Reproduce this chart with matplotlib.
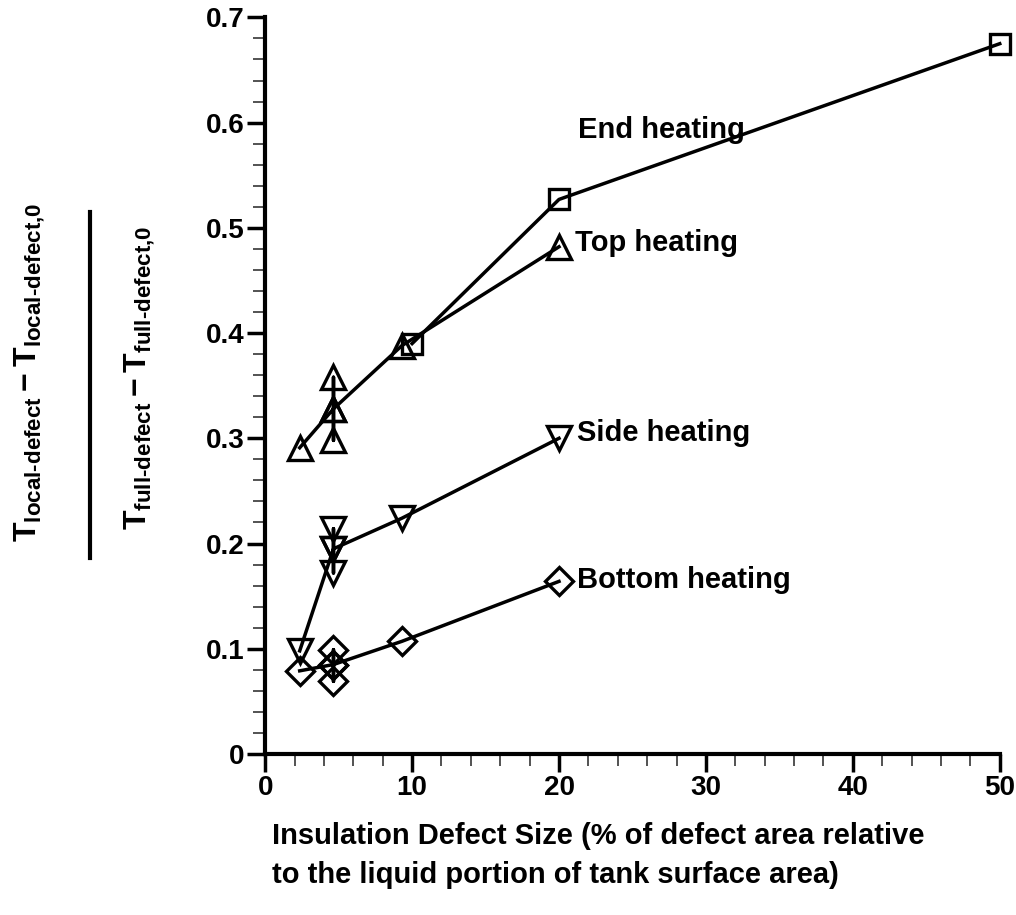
import matplotlib
matplotlib.use("Agg")
import matplotlib.pyplot as plt
from matplotlib.ticker import MultipleLocator
from matplotlib.lines import Line2D

plt.rcParams['font.family'] = 'Liberation Sans'
plt.rcParams['font.weight'] = 'bold'
plt.rcParams['mathtext.fontset'] = 'custom'
plt.rcParams['mathtext.rm'] = 'Liberation Sans:bold'
plt.rcParams['mathtext.bf'] = 'Liberation Sans:bold'
plt.rcParams['mathtext.it'] = 'Liberation Sans:bold'

# valores; no grupo de 4.65 a linha passa: meio -> topo -> base -> meio
x_small = [2.35, 4.65, 4.65, 4.65, 4.65, 9.3, 20]
top_y = [0.291, 0.328, 0.358, 0.298, 0.328, 0.388, 0.482]
side_y = [0.098, 0.195, 0.214, 0.172, 0.195, 0.224, 0.300]
bottom_y = [0.079, 0.085, 0.099, 0.069, 0.085, 0.107, 0.164]
end_x = [10, 20, 50]
end_y = [0.39, 0.527, 0.675]

labels = ["End heating", "Top heating", "Side heating", "Bottom heating"]

fig = plt.figure(figsize=(10.16, 9.15), dpi=100)
ax = fig.add_axes([0.261, 0.176, 0.723, 0.805])

estilo = dict(color='black', lw=2.5, mfc='none', mec='black', mew=2.4, clip_on=False)
ax.plot(end_x, end_y, marker='s', ms=14, **estilo)
ax.plot(x_small, top_y, marker='^', ms=17, **estilo)
ax.plot(x_small, side_y, marker='v', ms=17, **estilo)
ax.plot(x_small, bottom_y, marker='D', ms=14, **estilo)

# rotulos das curvas
ax.text(21.3, 0.593, labels[0], fontsize=21, fontweight='bold', va='center')
ax.text(21.1, 0.486, labels[1], fontsize=21, fontweight='bold', va='center')
ax.text(21.2, 0.305, labels[2], fontsize=21, fontweight='bold', va='center')
ax.text(21.2, 0.165, labels[3], fontsize=21, fontweight='bold', va='center')

ax.set_xlim(0, 50)
ax.set_ylim(0, 0.7)
ax.xaxis.set_major_locator(MultipleLocator(10))
ax.xaxis.set_minor_locator(MultipleLocator(2))
ax.yaxis.set_major_locator(MultipleLocator(0.1))
ax.yaxis.set_minor_locator(MultipleLocator(0.02))
ax.set_yticks([0, 0.1, 0.2, 0.3, 0.4, 0.5, 0.6, 0.7])
ax.set_yticklabels(['0', '0.1', '0.2', '0.3', '0.4', '0.5', '0.6', '0.7'])

for s in ['top', 'right']:
    ax.spines[s].set_visible(False)
for s in ['left', 'bottom']:
    ax.spines[s].set_linewidth(3)

ax.tick_params(which='major', direction='out', length=13, width=2.5, labelsize=20, pad=2)
ax.tick_params(which='minor', direction='out', length=8.5, width=1.3, color='#444444')
for lab in ax.get_xticklabels() + ax.get_yticklabels():
    lab.set_fontweight('bold')

# titulo do eixo x
fig.text(272 / 1016, 1 - 836 / 915, "Insulation Defect Size (% of defect area relative",
         fontsize=21, fontweight='bold', ha='left', va='center')
fig.text(272 / 1016, 1 - 875 / 915, "to the liquid portion of tank surface area)",
         fontsize=21, fontweight='bold', ha='left', va='center')

# titulo do eixo y em forma de fracao
fig.text(30 / 1016, 1 - 372 / 915,
         r'$\mathrm{T}_{\text{local-defect}} - \mathrm{T}_{\text{local-defect,0}}$',
         rotation=90, fontsize=23, ha='center', va='center')
fig.add_artist(Line2D([90 / 1016, 90 / 1016], [1 - 212 / 915, 1 - 558 / 915],
                      transform=fig.transFigure, color='black', lw=3))
fig.text(140 / 1016, 1 - 378 / 915,
         r'$\mathrm{T}_{\text{full-defect}} - \mathrm{T}_{\text{full-defect,0}}$',
         rotation=90, fontsize=23, ha='center', va='center')

fig.savefig("out.png", dpi=100)
